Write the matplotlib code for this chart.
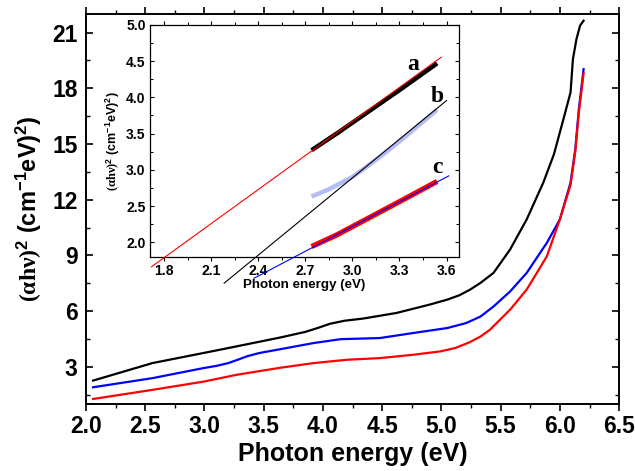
import matplotlib
matplotlib.use("Agg")
import matplotlib.pyplot as plt
from matplotlib.ticker import MultipleLocator

plt.rcParams["font.family"] = ["Liberation Sans", "DejaVu Sans"]
plt.rcParams["font.weight"] = "bold"
plt.rcParams["mathtext.fontset"] = "custom"
plt.rcParams["mathtext.rm"] = "Liberation Serif"
plt.rcParams["mathtext.it"] = "Liberation Serif:italic"
plt.rcParams["mathtext.bf"] = "Liberation Sans:bold"

# ---------------------------------------------------------------------------
# Main curves
# ---------------------------------------------------------------------------
black_x = [2.06, 2.56, 3.13, 3.64, 3.85, 3.96, 4.06, 4.18, 4.34, 4.62, 4.90, 5.05,
           5.15, 5.24, 5.33, 5.44, 5.58, 5.72, 5.86, 5.95, 6.03, 6.09, 6.11, 6.14,
           6.17, 6.20]
black_y = [2.26, 3.20, 3.92, 4.58, 4.88, 5.10, 5.32, 5.48, 5.60, 5.90, 6.35, 6.62,
           6.85, 7.15, 7.52, 8.06, 9.32, 10.94, 12.92, 14.45, 16.34, 17.78, 19.57,
           20.65, 21.37, 21.64]

blue_x = [2.06, 2.56, 2.99, 3.10, 3.20, 3.28, 3.36, 3.46, 3.64, 3.92, 4.15, 4.48,
          4.76, 5.05, 5.21, 5.33, 5.44, 5.58, 5.72, 5.89, 6.00, 6.09, 6.13, 6.16,
          6.20]
blue_y = [1.90, 2.39, 2.93, 3.05, 3.20, 3.38, 3.57, 3.74, 3.95, 4.28, 4.49, 4.55,
          4.82, 5.09, 5.36, 5.71, 6.25, 7.06, 8.06, 9.68, 10.94, 12.92, 14.72,
          16.87, 19.03]

red_x = [2.06, 2.56, 2.99, 3.27, 3.64, 3.92, 4.20, 4.48, 4.76, 4.99, 5.12, 5.24,
         5.33, 5.41, 5.58, 5.72, 5.89, 6.00, 6.09, 6.13, 6.16, 6.20]
red_y = [1.27, 1.76, 2.20, 2.57, 2.95, 3.20, 3.38, 3.47, 3.65, 3.83, 4.02, 4.33,
         4.63, 5.00, 6.08, 7.16, 8.95, 10.94, 12.80, 14.60, 16.70, 18.80]

# ---------------------------------------------------------------------------
# Inset: Tauc data and linear fits
# ---------------------------------------------------------------------------
a_x = [2.74, 2.90, 3.10, 3.30, 3.54]
a_y = [3.27, 3.50, 3.80, 4.10, 4.47]
b_x = [2.74, 2.85, 3.00, 3.09, 3.20, 3.31, 3.42, 3.54]
b_y = [2.63, 2.73, 2.90, 3.04, 3.22, 3.41, 3.61, 3.83]
c_x = [2.74, 2.90, 3.10, 3.30, 3.54]
c_y = [1.94, 2.10, 2.33, 2.56, 2.84]

fit_a_x = [1.72, 3.566]
fit_a_y = [1.66, 4.555]
fit_b_x = [2.183, 3.60]
fit_b_y = [1.434, 3.956]
fit_c_x = [2.374, 3.614]
fit_c_y = [1.503, 2.916]

YLAB = r"$\mathrm{(\alpha h\nu)}^{\mathbf{2}}$ $\mathbf{(cm^{-1}eV)^{2})}$"

fig = plt.figure(figsize=(6.35, 4.71), dpi=100)
ax = fig.add_axes([0.1354, 0.1423, 0.8396, 0.828])

ax.plot(black_x, black_y, color="black", lw=1.6)
ax.plot(blue_x, blue_y, color="#0000ff", lw=1.6)
ax.plot(red_x, red_y, color="#ff0000", lw=1.6)

ax.set_xlim(2.0, 6.5)
ax.set_ylim(1.0, 22.0)
ax.xaxis.set_major_locator(MultipleLocator(0.5))
ax.xaxis.set_minor_locator(MultipleLocator(0.25))
ax.yaxis.set_major_locator(MultipleLocator(3))
ax.yaxis.set_minor_locator(MultipleLocator(1.5))
ax.tick_params(axis="x", which="both", direction="out", top=True, labelsize=16.5, pad=3)
ax.tick_params(axis="y", which="both", direction="in", right=True, labelsize=16.5, pad=6)
ax.tick_params(which="major", length=5, width=1.2)
ax.tick_params(which="minor", length=3, width=1.0)
for s in ax.spines.values():
    s.set_linewidth(1.4)
for lab in ax.get_xticklabels() + ax.get_yticklabels():
    lab.set_fontweight("bold")

ax.set_xlabel("Photon energy (eV)", fontsize=18, fontweight="bold", labelpad=3)
ax.set_ylabel(YLAB, fontsize=17, labelpad=6)

# inset
ins = fig.add_axes([0.236, 0.455, 0.487, 0.492])
ins.plot(fit_a_x, fit_a_y, color="#ff0000", lw=0.8, clip_on=False, zorder=3)
ins.plot(fit_b_x, fit_b_y, color="black", lw=0.8, clip_on=False, zorder=3)
ins.plot(fit_c_x, fit_c_y, color="#0000ff", lw=0.8, clip_on=False, zorder=3)
ins.plot(a_x, a_y, color="black", lw=3.2, solid_capstyle="butt", zorder=2)
ins.plot(b_x, b_y, color="#b4bcf2", lw=3.2, solid_capstyle="butt", zorder=2)
ins.plot(c_x, c_y, color="#ff0000", lw=3.8, solid_capstyle="butt", zorder=2)

ins.text(3.35, 4.38, "a", fontfamily="Liberation Serif", fontsize=17, fontweight="bold")
ins.text(3.50, 3.94, "b", fontfamily="Liberation Serif", fontsize=17, fontweight="bold")
ins.text(3.51, 2.96, "c", fontfamily="Liberation Serif", fontsize=17, fontweight="bold")

ins.set_xlim(1.71, 3.68)
ins.set_ylim(1.8, 5.0)
ins.xaxis.set_major_locator(MultipleLocator(0.3))
ins.xaxis.set_minor_locator(MultipleLocator(0.15))
ins.yaxis.set_major_locator(MultipleLocator(0.5))
ins.yaxis.set_minor_locator(MultipleLocator(0.25))
ins.tick_params(axis="x", which="both", direction="out", labelsize=10, pad=2)
ins.tick_params(axis="x", which="both", top=True)
ins.tick_params(axis="y", which="both", direction="in", right=True, labelsize=10, pad=3)
ins.tick_params(which="major", length=3, width=0.8)
ins.tick_params(which="minor", length=2, width=0.7)
for s in ins.spines.values():
    s.set_linewidth(0.9)
for lab in ins.get_xticklabels() + ins.get_yticklabels():
    lab.set_fontweight("bold")
ins.set_xlabel("Photon energy (eV)", fontsize=9.6, fontweight="bold", labelpad=1)
ins.set_ylabel(YLAB, fontsize=9, labelpad=3)

fig.savefig("out.png", dpi=100)
